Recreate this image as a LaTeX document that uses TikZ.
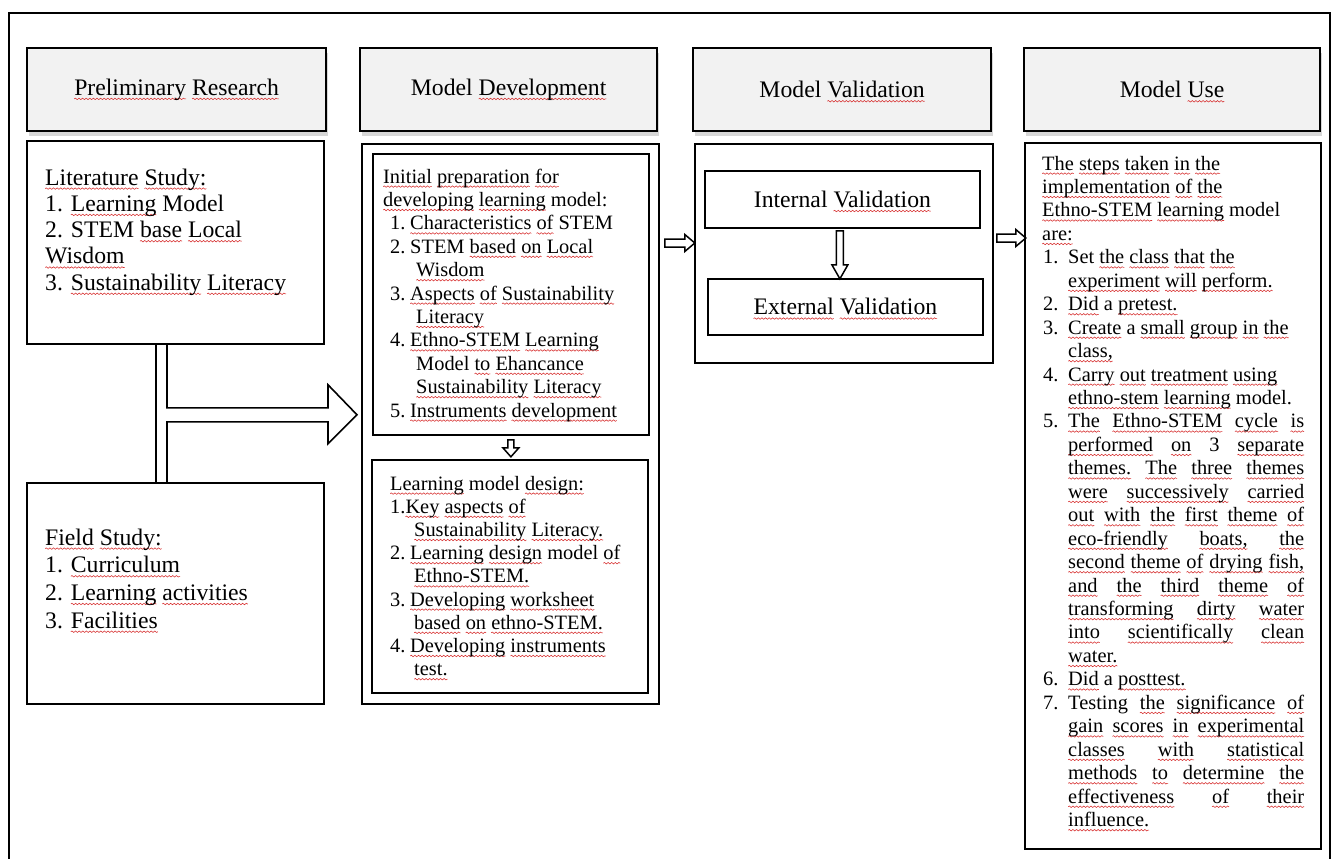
\documentclass[tikz,border=0pt]{standalone}
\usepackage{fontspec}
\setmainfont{Liberation Serif}
\usetikzlibrary{calc,shadows,decorations.pathmorphing}
\definecolor{sqred}{RGB}{215,45,45}
\definecolor{hdrfill}{RGB}{242,242,242}
\newsavebox\sqbox
\newcommand\sqw[1]{\leavevmode\sbox\sqbox{#1}%
  \tikz[overlay,baseline=0pt]\draw[sqred, line width=0.55pt, decorate,
    decoration={snake, segment length=3.6pt, amplitude=0.75pt}]
    (0pt,-3.6pt) -- (\the\wd\sqbox,-3.6pt);%
  \usebox\sqbox}
\newcommand\myfA{\fontsize{23.7}{26.3}\selectfont}
\newcommand\myfB{\fontsize{20.4}{23.4}\selectfont}
\begin{document}
\begin{tikzpicture}[x=1pt,y=-1pt,
  hdr/.style={draw, line width=2.2pt, fill=hdrfill, inner sep=0, anchor=north west,
    font=\myfA, drop shadow={shadow xshift=2pt, shadow yshift=-5pt, opacity=0.22, fill=black!70}},
  box/.style={draw, line width=1.8pt, inner sep=0, anchor=north west},
  inbox/.style={draw, line width=1.8pt, inner sep=0, anchor=north west, font=\myfA},
  txt/.style={inner sep=0, anchor=base west},
  barrow/.style={draw, line width=1.5pt, fill=white, line join=miter},
  dline/.style={draw, line width=1.6pt, line join=miter}]
\useasboundingbox (0,0) rectangle (1334,859);
\fill[white] (0,0) rectangle (1334,859);
\clip (0,0) rectangle (1334,859);
% outer frame
\draw[line width=2pt] (9,880) -- (9,13) -- (1330,13) -- (1330,880);
% headers
\node[hdr, minimum width=299, minimum height=83] (h1) at (26,47) {\sqw{Preliminary} \sqw{Research}};
\node[hdr, minimum width=297, minimum height=83] (h2) at (359,47) {Model \sqw{Development}};
\node[hdr, minimum width=298, minimum height=83] (h3) at (692,47) {Model \sqw{Validation}};
\node[hdr, minimum width=296, minimum height=83] (h4) at (1023,47) {Model \sqw{Use}};
% column 1
\node[box, minimum width=297, minimum height=203] (lit) at (26,140) {};
\node[box, minimum width=297, minimum height=221] (field) at (26,482) {};
\node[txt] (littxt) at (45,185) {\parbox[t]{272pt}{\fontsize{23.7}{26.3}\selectfont\raggedright
\sqw{Literature} \sqw{Study:}\\
1. \sqw{Learning} Model\\
2. STEM \sqw{base} \sqw{Local}\\
\sqw{Wisdom}\\
3. \sqw{Sustainability} \sqw{Literacy}}};
\node[txt] (fieldtxt) at (45,545) {\parbox[t]{272pt}{\fontsize{23.7}{27.7}\selectfont\raggedright
\sqw{Field} \sqw{Study:}\\
1. \sqw{Curriculum}\\
2. \sqw{Learning} \sqw{activities}\\
3. \sqw{Facilities}}};
% connector from column 1
\draw[dline] ($(lit.south west)+(130,0)$) -- ($(field.north west)+(130,0)$);
\draw[dline] ($(lit.south west)+(141,0)$) -- ++(0,63) -- ++(161,0) -- ++(0,-23) -- ++(29,30)
  -- ++(-29,29) -- ++(0,-22) -- ++(-161,0) -- ($(field.north west)+(141,0)$);
% column 2
\node[box, minimum width=297, minimum height=560] (mdout) at (361,143) {};
\node[box, minimum width=276, minimum height=281] (mdin1) at (372,153) {};
\node[box, minimum width=276, minimum height=233] (mdin2) at (371,459) {};
\node[txt] (md1txt) at (383,183) {\parbox[t]{262pt}{\myfB\raggedright
\sqw{Initial} \sqw{preparation} \sqw{for}\\
\sqw{developing} \sqw{learning} model:\\
\hspace*{7pt}\makebox[20pt][l]{1.}\sqw{Characteristics} \sqw{of} STEM\\
\hspace*{7pt}\makebox[20pt][l]{2.}STEM \sqw{based} \sqw{on} \sqw{Local}\\
\hspace*{33pt}\sqw{Wisdom}\\
\hspace*{7pt}\makebox[20pt][l]{3.}\sqw{Aspects} \sqw{of} \sqw{Sustainability}\\
\hspace*{33pt}\sqw{Literacy}\\
\hspace*{7pt}\makebox[20pt][l]{4.}\sqw{Ethno-STEM} \sqw{Learning}\\
\hspace*{33pt}Model \sqw{to} \sqw{Ehancance}\\
\hspace*{33pt}\sqw{Sustainability} \sqw{Literacy}\\
\hspace*{7pt}\makebox[20pt][l]{5.}\sqw{Instruments} \sqw{development}}};
\node[txt] (md2txt) at (390,490) {\parbox[t]{255pt}{\fontsize{20.4}{23.2}\selectfont\raggedright
\sqw{Learning} model \sqw{design:}\\
1.\sqw{Key} \sqw{aspects} \sqw{of}\\
\hspace*{24pt}\sqw{Sustainability} \sqw{Literacy.}\\
\makebox[20pt][l]{2.}\sqw{Learning} \sqw{design} model \sqw{of}\\
\hspace*{24pt}\sqw{Ethno-STEM.}\\
\makebox[20pt][l]{3.}\sqw{Developing} \sqw{worksheet}\\
\hspace*{24pt}\sqw{based} \sqw{on} \sqw{ethno-STEM.}\\
\makebox[20pt][l]{4.}\sqw{Developing} \sqw{instruments}\\
\hspace*{24pt}\sqw{test.}}};
\draw[barrow] ($(mdin1.south)+(-3,4)$) -- ++(0,8) -- ++(-5,0) -- ++(8,9) -- ++(8,-9)
  -- ++(-5,0) -- ++(0,-8) -- cycle;
% column 3
\node[box, minimum width=298, minimum height=219] (mvout) at (694,143) {};
\node[inbox, minimum width=275, minimum height=57] (mvint) at (704,170) {Internal \sqw{Validation}};
\node[inbox, minimum width=275, minimum height=56] (mvext) at (707,278) {\sqw{External} \sqw{Validation}};
\draw[barrow] ($(mvint.south)+(-6,2)$) -- ++(0,34) -- ++(-4.5,0) -- ++(8,14) -- ++(8,-14)
  -- ++(-4.5,0) -- ++(0,-34) -- cycle;
% arrows between columns
\draw[barrow] ($(mdout.north east)+(5,96)$) -- ++(20,0) -- ++(0,-4.5) -- ++(10,8.5)
  -- ++(-10,8.5) -- ++(0,-4.5) -- ++(-20,0) -- cycle;
\draw[barrow] ($(mvout.north east)+(3,91)$) -- ++(19,0) -- ++(0,-4.5) -- ++(10,8.5)
  -- ++(-10,8.5) -- ++(0,-4.5) -- ++(-19,0) -- cycle;
% column 4
\node[box, minimum width=296, minimum height=706] (mu) at (1024,142) {};
\node[txt] (mutxt) at (1042,170) {\parbox[t]{275pt}{\fontsize{20.4}{23.45}\selectfont\raggedright
\sqw{The} \sqw{steps} \sqw{taken} \sqw{in} \sqw{the}\\
\sqw{implementation} \sqw{of} \sqw{the}\\
\sqw{Ethno-STEM} \sqw{learning} model\\
\sqw{are:}\\
\hspace*{1pt}\makebox[25pt][l]{1.}Set \sqw{the} \sqw{class} \sqw{that} \sqw{the}\\
\hspace*{26pt}\sqw{experiment} \sqw{will} \sqw{perform.}\\
\hspace*{1pt}\makebox[25pt][l]{2.}\sqw{Did} a \sqw{pretest.}\\
\hspace*{1pt}\makebox[25pt][l]{3.}\sqw{Create} a \sqw{small} \sqw{group} \sqw{in} \sqw{the}\\
\hspace*{26pt}\sqw{class,}\\
\hspace*{1pt}\makebox[25pt][l]{4.}\sqw{Carry} \sqw{out} \sqw{treatment} \sqw{using}\\
\hspace*{26pt}\sqw{ethno-stem} \sqw{learning} model.\\
\hspace*{1pt}\makebox[25pt][l]{5.}\makebox[236pt][s]{\sqw{The} \sqw{Ethno-STEM} \sqw{cycle} \sqw{is}}\\
\hspace*{26pt}\makebox[236pt][s]{\sqw{performed} \sqw{on} 3 \sqw{separate}}\\
\hspace*{26pt}\makebox[236pt][s]{\sqw{themes.} \sqw{The} \sqw{three} \sqw{themes}}\\
\hspace*{26pt}\makebox[236pt][s]{\sqw{were} \sqw{successively} \sqw{carried}}\\
\hspace*{26pt}\makebox[236pt][s]{\sqw{out} \sqw{with} \sqw{the} \sqw{first} \sqw{theme} \sqw{of}}\\
\hspace*{26pt}\makebox[236pt][s]{\sqw{eco-friendly} \sqw{boats,} \sqw{the}}\\
\hspace*{26pt}\makebox[236pt][s]{\sqw{second} \sqw{theme} \sqw{of} \sqw{drying} \sqw{fish,}}\\
\hspace*{26pt}\makebox[236pt][s]{\sqw{and} \sqw{the} \sqw{third} \sqw{theme} \sqw{of}}\\
\hspace*{26pt}\makebox[236pt][s]{\sqw{transforming} \sqw{dirty} \sqw{water}}\\
\hspace*{26pt}\makebox[236pt][s]{\sqw{into} \sqw{scientifically} \sqw{clean}}\\
\hspace*{26pt}\sqw{water.}\\
\hspace*{1pt}\makebox[25pt][l]{6.}\sqw{Did} a \sqw{posttest.}\\
\hspace*{1pt}\makebox[25pt][l]{7.}\makebox[236pt][s]{Testing \sqw{the} \sqw{significance} \sqw{of}}\\
\hspace*{26pt}\makebox[236pt][s]{\sqw{gain} \sqw{scores} \sqw{in} \sqw{experimental}}\\
\hspace*{26pt}\makebox[236pt][s]{\sqw{classes} \sqw{with} \sqw{statistical}}\\
\hspace*{26pt}\makebox[236pt][s]{\sqw{methods} \sqw{to} \sqw{determine} \sqw{the}}\\
\hspace*{26pt}\makebox[236pt][s]{\sqw{effectiveness} \sqw{of} \sqw{their}}\\
\hspace*{26pt}\sqw{influence.}}};
\end{tikzpicture}
\end{document}
